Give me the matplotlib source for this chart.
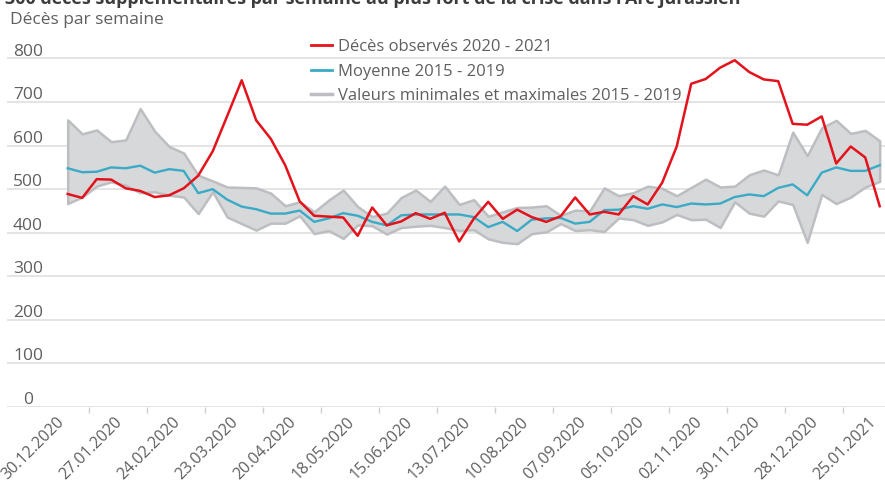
import numpy as np
import matplotlib
matplotlib.use('Agg')
import matplotlib.pyplot as plt
import matplotlib.transforms as mtransforms
from matplotlib.lines import Line2D

plt.rcParams['font.family'] = ['Open Sans', 'DejaVu Sans']

# weekly data, 57 weeks
date_labels = ['30.12.2020', '27.01.2020', '24.02.2020', '23.03.2020', '20.04.2020',
               '18.05.2020', '15.06.2020', '13.07.2020', '10.08.2020', '07.09.2020',
               '05.10.2020', '02.11.2020', '30.11.2020', '28.12.2020', '25.01.2021']

observed = [489, 480, 523, 522, 502, 496, 482, 486, 502, 531,
            587, 668, 750, 658, 616, 555, 472, 439, 437, 435,
            393, 458, 417, 426, 445, 432, 446, 380, 432, 471,
            432, 453, 436, 425, 438, 481, 442, 448, 442, 484,
            465, 515, 598, 742, 753, 779, 796, 769, 752, 748,
            650, 648, 667, 559, 598, 573, 461]

mean_1519 = [548, 539, 540, 550, 548, 554, 538, 546, 542, 491,
             500, 476, 460, 454, 444, 444, 451, 425, 433, 445,
             439, 425, 417, 440, 442, 442, 442, 442, 436, 413,
             425, 404, 430, 433, 434, 421, 425, 452, 453, 461,
             455, 465, 459, 467, 465, 467, 482, 488, 484, 503,
             511, 486, 538, 550, 542, 542, 555]

max_1519 = [659, 627, 636, 609, 613, 685, 633, 598, 583, 532,
            519, 505, 504, 503, 491, 462, 471, 448, 475, 498,
            460, 437, 445, 481, 498, 472, 507, 465, 476, 438,
            448, 458, 459, 462, 440, 452, 450, 503, 485, 492,
            507, 502, 485, 504, 523, 505, 507, 533, 544, 533,
            631, 577, 641, 658, 628, 635, 611]

min_1519 = [467, 482, 507, 517, 509, 492, 494, 486, 482, 444,
            494, 436, 421, 406, 422, 422, 439, 398, 405, 387,
            418, 416, 397, 412, 415, 417, 412, 405, 407, 386,
            378, 375, 398, 402, 421, 405, 407, 403, 434, 430,
            417, 425, 442, 430, 431, 412, 471, 445, 438, 473,
            465, 378, 488, 467, 482, 505, 518]

yticks = [0, 100, 200, 300, 400, 500, 600, 700, 800]

red = '#e3121b'
blue = '#3aaac6'
fill_gray = '#d7d8da'
edge_gray = '#bdbec1'
text_gray = '#5f5f5f'

W, H = 885, 490
fig = plt.figure(figsize=(W / 100, H / 100), dpi=100)
px_per_unit = 348.5 / 800
ymax = 815
ax = fig.add_axes([7 / W, 83 / H, 878 / W, ymax * px_per_unit / H])

x = np.arange(len(observed))
ax.fill_between(x, min_1519, max_1519, facecolor=fill_gray, edgecolor=edge_gray,
                linewidth=1.8, zorder=2)
ax.plot(x, mean_1519, color=blue, lw=1.7, zorder=3)
ax.plot(x, observed, color=red, lw=1.8, zorder=4)

ax.set_xlim((7 - 67.7) / 14.5, (885 - 67.7) / 14.5)
ax.set_ylim(0, ymax)

for s in ax.spines.values():
    s.set_visible(False)

lift = mtransforms.ScaledTranslation(0, 3 / 100, fig.dpi_scale_trans)
for v in yticks:
    ax.axhline(v, color='#dcdcdc', lw=1.1, zorder=1)
    ax.text(21 / 878, v, str(v), transform=ax.get_yaxis_transform() + lift,
            ha='center', va='baseline', fontsize=12.5, color=text_gray)

ax.set_yticks([])
ax.set_xticks(np.arange(0, len(observed), 4))
ax.set_xticklabels(date_labels, rotation=45, ha='right', va='top',
                   fontsize=11.5, color=text_gray)
shift = mtransforms.ScaledTranslation(6 / 100, 0, fig.dpi_scale_trans)
for lbl in ax.get_xticklabels():
    lbl.set_transform(lbl.get_transform() + shift)
ax.set_xticks(np.arange(1.5, len(observed) - 2, 4), minor=True)
ax.tick_params(axis='x', which='major', length=0, pad=5)
ax.tick_params(axis='x', which='minor', length=4, color='#d0d0d0', width=1)

# title (cut at top) and axis unit
fig.text(5 / W, 1 - 4 / H,
         "300 décès supplémentaires par semaine au plus fort de la crise dans l'Arc jurassien",
         fontsize=13, fontweight='bold', color='#3c3c3c', va='baseline', ha='left')
fig.text(10 / W, 1 - 24 / H, 'Décès par semaine', fontsize=12.5, color=text_gray,
         va='baseline', ha='left')

handles = [Line2D([], [], color=red, lw=2),
           Line2D([], [], color=blue, lw=2),
           Line2D([], [], color=edge_gray, lw=2.5)]
labels = ['Décès observés 2020 - 2021', 'Moyenne 2015 - 2019',
          'Valeurs minimales et maximales 2015 - 2019']
leg = fig.legend(handles, labels, loc='upper left',
                 bbox_to_anchor=(303 / W, 1 - 31 / H), frameon=False,
                 fontsize=12, labelcolor=text_gray, handlelength=1.25,
                 handletextpad=0.35, labelspacing=0.5, borderpad=0)

fig.savefig('out.png', dpi=100)
